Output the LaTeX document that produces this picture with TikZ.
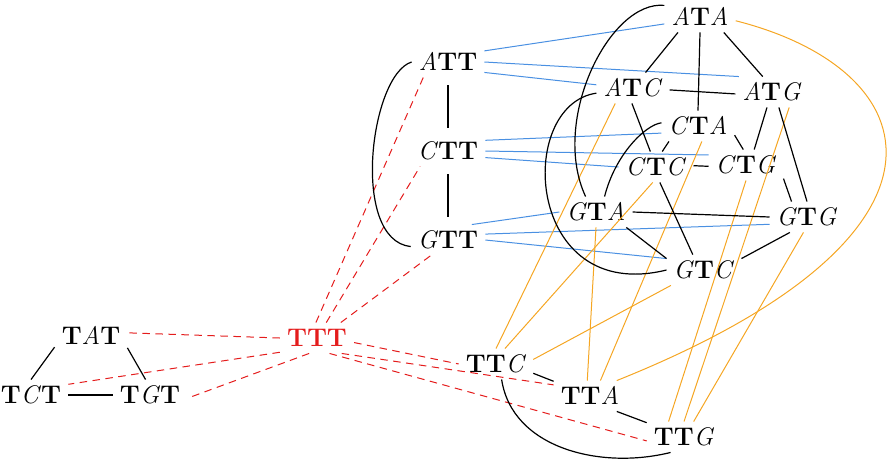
\documentclass[tikz,border=0pt]{standalone}
\usepackage{fontspec}
\usepackage{tikz}
\definecolor{bluec}{RGB}{74,144,226}
\definecolor{orangec}{RGB}{245,166,35}
\definecolor{redc}{RGB}{228,28,28}
\newcommand{\bT}{\textbf{T}}
\newcommand{\iA}{\textit{A}}
\newcommand{\iC}{\textit{C}}
\newcommand{\iG}{\textit{G}}
\begin{document}
\begin{tikzpicture}[x=1pt,y=-1pt,
  lab/.style={font=\fontsize{25.5}{30}\selectfont, inner xsep=7pt, inner ysep=6.5pt, text height=17.5pt, text depth=0pt},
  blk/.style={draw=black, line width=1.2pt},
  blu/.style={draw=bluec, line width=1pt},
  org/.style={draw=orangec, line width=1pt},
  rdd/.style={draw=redc, line width=1pt, dash pattern=on 7.5pt off 5.5pt},
  vshort/.style={shorten <=8pt, shorten >=8pt}]
\useasboundingbox (0,0) rectangle (891,461);
% nodes
\node[lab] (ata) at (700,17) {\iA\bT\iA};
\node[lab] (atc) at (633,88) {\iA\bT\iC};
\node[lab] (atg) at (772,92) {\iA\bT\iG};
\node[lab] (cta) at (698,126) {\iC\bT\iA};
\node[lab] (ctc) at (656,167) {\iC\bT\iC};
\node[lab] (ctg) at (746,165) {\iC\bT\iG};
\node[lab] (gta) at (596,212) {\iG\bT\iA};
\node[lab] (gtc) at (704,270) {\iG\bT\iC};
\node[lab] (gtg) at (807,217) {\iG\bT\iG};
\node[lab] (att) at (448,62) {\iA\bT\bT};
\node[lab] (ctt) at (448,151) {\iC\bT\bT};
\node[lab] (gtt) at (448,240) {\iG\bT\bT};
\node[lab, text=redc] (ttt) at (317,338) {\bT\bT\bT};
\node[lab] (tat) at (91,336) {\bT\iA\bT};
\node[lab] (tct) at (31,395) {\bT\iC\bT};
\node[lab] (tgt) at (150,395) {\bT\iG\bT};
\node[lab] (ttc) at (496,364) {\bT\bT\iC};
\node[lab] (tta) at (590,396) {\bT\bT\iA};
\node[lab] (ttg) at (684,437) {\bT\bT\iG};
% blue
\draw[blu] (att.17) -- (ata.191);
\draw[blu] (att.east) -- (atg.155);
\draw[blu] (att.344) -- (atc.175);
\draw[blu] (ctt.16) -- (cta.191);
\draw[blu] (ctt.east) -- (ctg.165);
\draw[blu] (ctt.350) -- (ctc.west);
\draw[blu] (gtt.33) -- (gta.west);
\draw[blu] (gtt.9) -- (gtg.191);
\draw[blu] (gtt.east) -- (gtc.163);
% orange
\draw[org] (ttc.north) -- (atc.221);
\draw[org] (ttc.60) -- (ctc.258);
\draw[org] (ttc.7) -- (gtc.205);
\draw[org] (tta.56) -- (cta.284);
\draw[org] (tta.100) -- (gta.south);
\draw[org] (ttg.135) -- (ctg.south);
\draw[org] (ttg.north) -- (atg.318);
\draw[org] (ttg.58) -- (gtg.257);
\draw[org] (ata.354) .. controls (930,70) and (980,235) .. (tta.30);
% red dashed
\draw[rdd] (ttt.94) -- (att.212);
\draw[rdd] (ttt.59) -- (ctt.209);
\draw[rdd] (ttt.33) -- (gtt.222);
\draw[rdd] (ttt.west) -- (tat.5);
\draw[rdd] (ttt.201) -- (tct.16);
\draw[rdd] (ttt.243) -- (tgt.355);
\draw[rdd] (ttt.353) -- (ttc.west);
\draw[rdd] (ttt.328) -- (tta.163);
\draw[rdd] (ttt.309) -- (ttg.186);
% black: top cluster
\draw[blk] (ata.215) -- (atc.51);
\draw[blk] (ata.327) -- (atg.121);
\draw[blk] (ata.south) -- (cta.north);
\draw[blk] (atc.-3) -- (atg.183);
\draw[blk] (atc.266) -- (ctc.110);
\draw[blk] (cta.208) -- (ctc.68);
\draw[blk] (cta.346) -- (ctg.100);
\draw[blk] (atg.252) -- (ctg.62);
\draw[blk] (atg.294) -- (gtg.north);
\draw[blk] (ctc.2) -- (ctg.182);
\draw[blk] (ctc.284) -- (gtc.126);
\draw[blk] (ctg.340) -- (gtg.135);
\draw[blk] (gta.east) -- (gtg.west);
\draw[blk] (gta.333) -- (gtc.163);
\draw[blk] (gtc.17) -- (gtg.222);
\draw[blk] (ata.162) .. controls (610,0) and (550,120) .. (gta.124);
\draw[blk] (atc.188) .. controls (515,105) and (525,305) .. (gtc.west);
\draw[blk] (cta.175) .. controls (645,125) and (615,155) .. (gta.61);
% black: left column
\draw[blk, vshort] (att.south) -- (ctt.north);
\draw[blk, vshort] (ctt.south) -- (gtt.north);
\draw[blk] (att.west) .. controls (370,75) and (350,240) .. (gtt.190);
% black: bottom
\draw[blk] (ttc.346) -- (tta.158);
\draw[blk] (tta.330) -- (ttg.159);
\draw[blk] (ttc.290) .. controls (512,448) and (600,470) .. (ttg.229);
% black: left triangle
\draw[blk] (tat.197) -- (tct.north);
\draw[blk] (tat.342) -- (tgt.106);
\draw[blk] (tct.east) -- (tgt.west);
\end{tikzpicture}
\end{document}
